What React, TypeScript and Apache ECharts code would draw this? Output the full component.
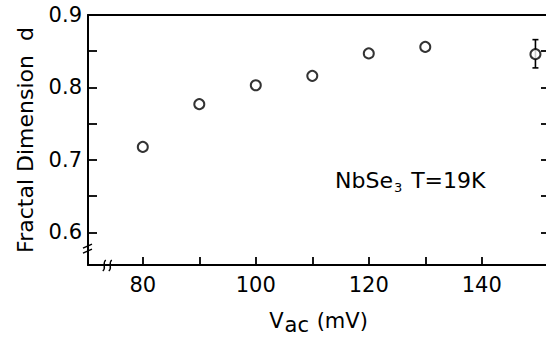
import React, { useEffect, useRef } from "react";
import * as echarts from "echarts";

const voltages = [80, 90, 100, 110, 120, 130, 149.5];
const dimensions = [0.718, 0.777, 0.803, 0.816, 0.847, 0.856, 0.846];
const errVoltages = [149.5];
const errLow = [0.827];
const errHigh = [0.866];
const xTickValues = [80, 90, 100, 110, 120, 130, 140];
const xLabelValues = [80, 100, 120, 140];
const yTickValues = [0.6, 0.65, 0.7, 0.75, 0.8, 0.85, 0.9];
const yLabelValues = [0.6, 0.7, 0.8, 0.9];
const xRange = [70.3, 151.9];
const yRange = [0.555, 0.9];
const xBreakValue = 73.8;
const yBreakValue = 0.577;

const FONT = '"DejaVu Sans", sans-serif';

export default function App() {
  const ref = useRef<HTMLDivElement>(null);
  useEffect(() => {
    if (!ref.current) return;
    const chart = echarts.init(ref.current, undefined, { renderer: "svg" });
    const errData = errVoltages.map((v, i) => [v, errLow[i], errHigh[i]]);
    const hidden = { show: false };
    const tickStyle = { color: "#000", width: 1.8 };
    chart.setOption({
      animation: false,
      backgroundColor: "#ffffff",
      grid: { left: 88, top: 15, right: -3, bottom: 73, containLabel: false, outerBoundsMode: "none" },
      xAxis: [
        {
          type: "value",
          position: "bottom",
          min: xRange[0],
          max: xRange[1],
          axisLine: { show: true, lineStyle: { color: "#000", width: 2 } },
          axisTick: hidden,
          axisLabel: { show: true, customValues: xLabelValues, color: "#000", fontSize: 21, fontFamily: FONT, margin: 9 },
          splitLine: hidden,
          name: "{v|V}{s|ac}{v| (mV)}",
          nameLocation: "middle",
          nameGap: 41,
          nameTextStyle: {
            rich: {
              v: { fontSize: 21, fontFamily: FONT, color: "#000" },
              s: { fontSize: 21, fontFamily: FONT, color: "#000", padding: [8, 1, 0, 1] },
            },
          },
        },
        {
          type: "value",
          position: "top",
          min: xRange[0],
          max: xRange[1],
          axisLine: { show: true, lineStyle: { color: "#000", width: 2 } },
          axisTick: hidden,
          axisLabel: hidden,
          splitLine: hidden,
        },
        {
          type: "value",
          position: "bottom",
          min: xRange[0],
          max: xRange[1],
          axisLine: hidden,
          axisTick: { show: true, inside: true, length: 8, customValues: xTickValues, lineStyle: tickStyle },
          axisLabel: hidden,
          splitLine: hidden,
        },
      ],
      yAxis: [
        {
          type: "value",
          position: "left",
          min: yRange[0],
          max: yRange[1],
          axisLine: { show: true, lineStyle: { color: "#000", width: 2 } },
          axisTick: hidden,
          axisLabel: {
            show: true,
            customValues: yLabelValues,
            color: "#000",
            fontSize: 21,
            fontFamily: FONT,
            margin: 6,
            formatter: (v: number) => v.toFixed(1),
          },
          splitLine: hidden,
          name: "Fractal Dimension  d",
          nameLocation: "middle",
          nameRotate: 90,
          nameGap: 52,
          nameTextStyle: { fontSize: 22, fontFamily: FONT, color: "#000" },
        },
        {
          type: "value",
          position: "right",
          min: yRange[0],
          max: yRange[1],
          axisLine: hidden,
          axisTick: { show: true, inside: true, length: 8, customValues: yTickValues, lineStyle: tickStyle },
          axisLabel: hidden,
          splitLine: hidden,
        },
        {
          type: "value",
          position: "left",
          min: yRange[0],
          max: yRange[1],
          axisLine: hidden,
          axisTick: { show: true, inside: true, length: 9, customValues: yTickValues, lineStyle: tickStyle },
          axisLabel: hidden,
          splitLine: hidden,
        },
      ],
      series: [
        {
          type: "custom",
          xAxisIndex: 0,
          yAxisIndex: 0,
          data: errData,
          renderItem: (params: any, api: any) => {
            const x = api.value(0);
            const lo = api.coord([x, api.value(1)]);
            const hi = api.coord([x, api.value(2)]);
            const cap = 3;
            const style = { stroke: "#000", lineWidth: 1.6 };
            return {
              type: "group",
              children: [
                { type: "line", shape: { x1: lo[0], y1: lo[1], x2: hi[0], y2: hi[1] }, style },
                { type: "line", shape: { x1: lo[0] - cap, y1: lo[1], x2: lo[0] + cap, y2: lo[1] }, style },
                { type: "line", shape: { x1: hi[0] - cap, y1: hi[1], x2: hi[0] + cap, y2: hi[1] }, style },
              ],
            };
          },
          z: 2,
        },
        {
          type: "scatter",
          xAxisIndex: 0,
          yAxisIndex: 0,
          data: voltages.map((v, i) => [v, dimensions[i]]),
          symbol: "circle",
          symbolSize: 10,
          itemStyle: { color: "#fff", borderColor: "#000", borderWidth: 2 },
          z: 3,
        },
      ],
    });

    const xb = chart.convertToPixel({ seriesIndex: 1 }, [xBreakValue, yRange[0]]) as number[];
    const yb = chart.convertToPixel({ seriesIndex: 1 }, [xRange[0], yBreakValue]) as number[];
    const ls = { stroke: "#000", lineWidth: 1.4, fill: "none" };
    chart.setOption({
      graphic: [
        { type: "rect", shape: { x: xb[0] - 5, y: xb[1] - 2, width: 10, height: 4 }, style: { fill: "#fff" } },
        { type: "bezierCurve", shape: { x1: xb[0] - 5, y1: xb[1] + 6, x2: xb[0] - 2, y2: xb[1] - 5, cpx1: xb[0] - 1, cpy1: xb[1] + 3, cpx2: xb[0] - 6, cpy2: xb[1] - 2 }, style: ls },
        { type: "bezierCurve", shape: { x1: xb[0] + 1, y1: xb[1] + 6, x2: xb[0] + 4, y2: xb[1] - 5, cpx1: xb[0] + 5, cpy1: xb[1] + 3, cpx2: xb[0], cpy2: xb[1] - 2 }, style: ls },
        { type: "rect", shape: { x: yb[0] - 2, y: yb[1] - 4, width: 4, height: 8 }, style: { fill: "#fff" } },
        { type: "line", shape: { x1: yb[0] - 5, y1: yb[1] - 1, x2: yb[0] + 4, y2: yb[1] - 5 }, style: ls },
        { type: "line", shape: { x1: yb[0] - 5, y1: yb[1] + 4, x2: yb[0] + 4, y2: yb[1] }, style: ls },
        {
          type: "text",
          x: 335,
          y: 180,
          style: {
            text: "{a|NbSe}{b|3}{a| T=19K}",
            verticalAlign: "middle",
            rich: {
              a: { fontSize: 22, fontFamily: FONT, fill: "#000" },
              b: { fontSize: 13, fontFamily: FONT, fill: "#000", padding: [14, 2, 0, 1] },
            },
          },
        },
      ],
    });

    return () => chart.dispose();
  }, []);
  return (
    <div
      ref={ref}
      style={{ position: "absolute", left: 0, top: 0, width: 546, height: 338, background: "#fff" }}
    />
  );
}
